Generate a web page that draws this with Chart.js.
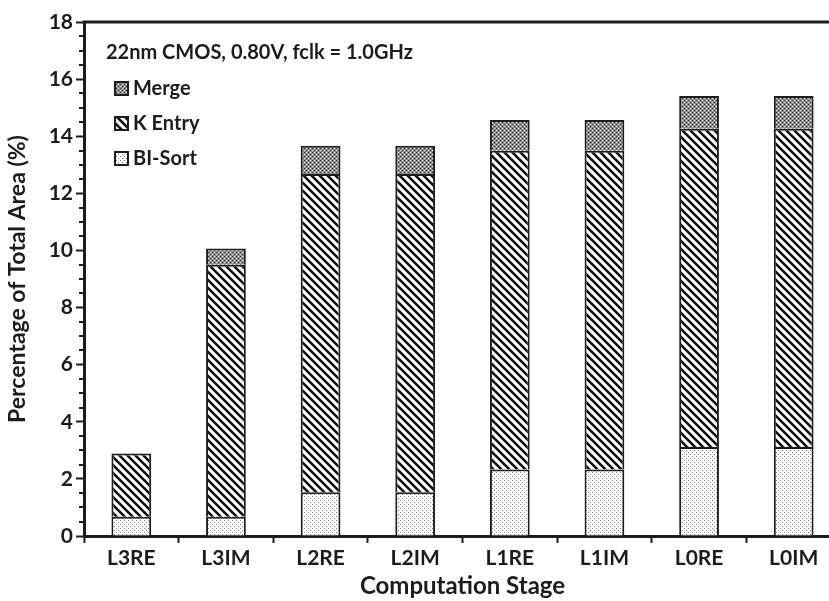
<!DOCTYPE html>
<html>
<head>
<meta charset="utf-8">
<script src="https://cdn.jsdelivr.net/npm/chart.js@4"></script>
<style>
  html, body { margin: 0; padding: 0; background: #fff; overflow: hidden; }
  #wrap { width: 843px; height: 601px; }
</style>
</head>
<body>
<div id="wrap"><canvas id="myChart" width="843" height="601"></canvas></div>
<script>
// data
var stages = ['L3RE', 'L3IM', 'L2RE', 'L2IM', 'L1RE', 'L1IM', 'L0RE', 'L0IM'];
var biSort = [0.67, 0.67, 1.53, 1.53, 2.33, 2.33, 3.12, 3.12];
var kEntry = [2.22, 8.83, 11.15, 11.15, 11.16, 11.16, 11.14, 11.14];
var merge = [0, 0.57, 0.99, 0.99, 1.08, 1.08, 1.15, 1.15];
var legendOrder = ['Merge', 'K Entry', 'BI-Sort'];
var note = '22nm CMOS, 0.80V, fclk = 1.0GHz';

var ink = '#1c1c1c';
var fontName = 'Lato, "Open Sans", sans-serif';

function makeTile(size, draw) {
    var c = document.createElement('canvas');
    c.width = size;
    c.height = size;
    var t = c.getContext('2d');
    draw(t);
    return document.getElementById('myChart').getContext('2d').createPattern(c, 'repeat');
}

// light dots
var dotFill = makeTile(4, function (t) {
    t.fillStyle = '#ffffff';
    t.fillRect(0, 0, 4, 4);
    t.fillStyle = '#7a7a7a';
    t.fillRect(0, 0, 1, 1);
    t.fillRect(2, 2, 1, 1);
});

// diagonal stripes
var stripeFill = makeTile(8, function (t) {
    t.fillStyle = '#ffffff';
    t.fillRect(0, 0, 8, 8);
    t.strokeStyle = '#111';
    t.lineWidth = 2.6;
    [-8, 0, 8].forEach(function (k) {
        t.beginPath();
        t.moveTo(k - 1, -1);
        t.lineTo(k + 9, 9);
        t.stroke();
    });
});

// dark checker
var checkFill = makeTile(4, function (t) {
    t.fillStyle = '#8e8e8e';
    t.fillRect(0, 0, 4, 4);
    t.fillStyle = '#2a2a2a';
    t.fillRect(0, 0, 1, 1);
    t.fillRect(2, 2, 1, 1);
    t.fillStyle = '#e6e6e6';
    t.fillRect(2, 0, 1, 1);
    t.fillRect(0, 2, 1, 1);
});

var fills = { 'BI-Sort': dotFill, 'K Entry': stripeFill, 'Merge': checkFill };

var extras = {
    id: 'extras',
    afterDraw: function (chart) {
        var ctx = chart.ctx;
        var area = chart.chartArea;
        var y = chart.scales.y;
        ctx.save();
        // top frame line
        ctx.strokeStyle = ink;
        ctx.lineWidth = 3;
        ctx.beginPath();
        ctx.moveTo(area.left - 1.5, area.top);
        ctx.lineTo(chart.width, area.top);
        ctx.stroke();
        // minor ticks
        ctx.lineWidth = 2;
        for (var v = 0.5; v < 18; v += 0.5) {
            if (v % 2 === 0) continue;
            var py = Math.round(y.getPixelForValue(v));
            ctx.beginPath();
            ctx.moveTo(area.left - 5, py);
            ctx.lineTo(area.left, py);
            ctx.stroke();
        }
        // note
        ctx.fillStyle = ink;
        ctx.font = 'bold 20px ' + fontName;
        ctx.textBaseline = 'middle';
        ctx.fillText(note, 106, 53);
        // legend
        legendOrder.forEach(function (name, i) {
            var cy = 89 + i * 35;
            ctx.fillStyle = fills[name];
            ctx.fillRect(115, cy - 7, 13, 13);
            ctx.lineWidth = 2;
            ctx.strokeStyle = ink;
            ctx.strokeRect(115, cy - 7, 13, 13);
            ctx.fillStyle = ink;
            ctx.font = 'bold 20px ' + fontName;
            ctx.fillText(name, 133, cy);
        });
        ctx.restore();
    }
};

function barSet(label, data) {
    return {
        label: label,
        data: data,
        backgroundColor: fills[label],
        borderColor: ink,
        borderWidth: 2,
        borderSkipped: 'start',
        barPercentage: 0.42,
        categoryPercentage: 1.0
    };
}

var ctx = document.getElementById('myChart').getContext('2d');
var myChart = new Chart(ctx, {
    type: 'bar',
    data: {
        labels: stages,
        datasets: [
            barSet('BI-Sort', biSort),
            barSet('K Entry', kEntry),
            barSet('Merge', merge)
        ]
    },
    options: {
        responsive: false,
        animation: false,
        layout: {
            padding: { top: 22, right: 2, bottom: 0, left: 0 }
        },
        plugins: {
            legend: { display: false },
            tooltip: { enabled: false }
        },
        scales: {
            x: {
                stacked: true,
                grid: {
                    offset: true,
                    drawOnChartArea: false,
                    tickLength: 7,
                    tickWidth: 2,
                    tickColor: ink
                },
                border: { color: ink, width: 3 },
                ticks: {
                    color: ink,
                    padding: 3,
                    font: { family: fontName, size: 21, weight: 'bold' }
                },
                title: {
                    display: true,
                    text: 'Computation Stage',
                    color: ink,
                    padding: { top: 0, bottom: 0 },
                    font: { family: fontName, size: 24, weight: 'bold' }
                },
                afterFit: function (scale) { scale.height = 65; }
            },
            y: {
                stacked: true,
                min: 0,
                max: 18,
                ticks: {
                    stepSize: 2,
                    color: ink,
                    padding: 3,
                    font: { family: fontName, size: 21, weight: 'bold' }
                },
                grid: {
                    drawOnChartArea: false,
                    tickLength: 8,
                    tickWidth: 2,
                    tickColor: ink
                },
                border: { color: ink, width: 3 },
                title: {
                    display: true,
                    text: 'Percentage of Total Area (%)',
                    color: ink,
                    padding: { top: 4, bottom: 0 },
                    font: { family: fontName, size: 23, weight: 'bold' }
                },
                afterFit: function (scale) { scale.width = 84; }
            }
        }
    },
    plugins: [extras]
});
</script>
</body>
</html>
